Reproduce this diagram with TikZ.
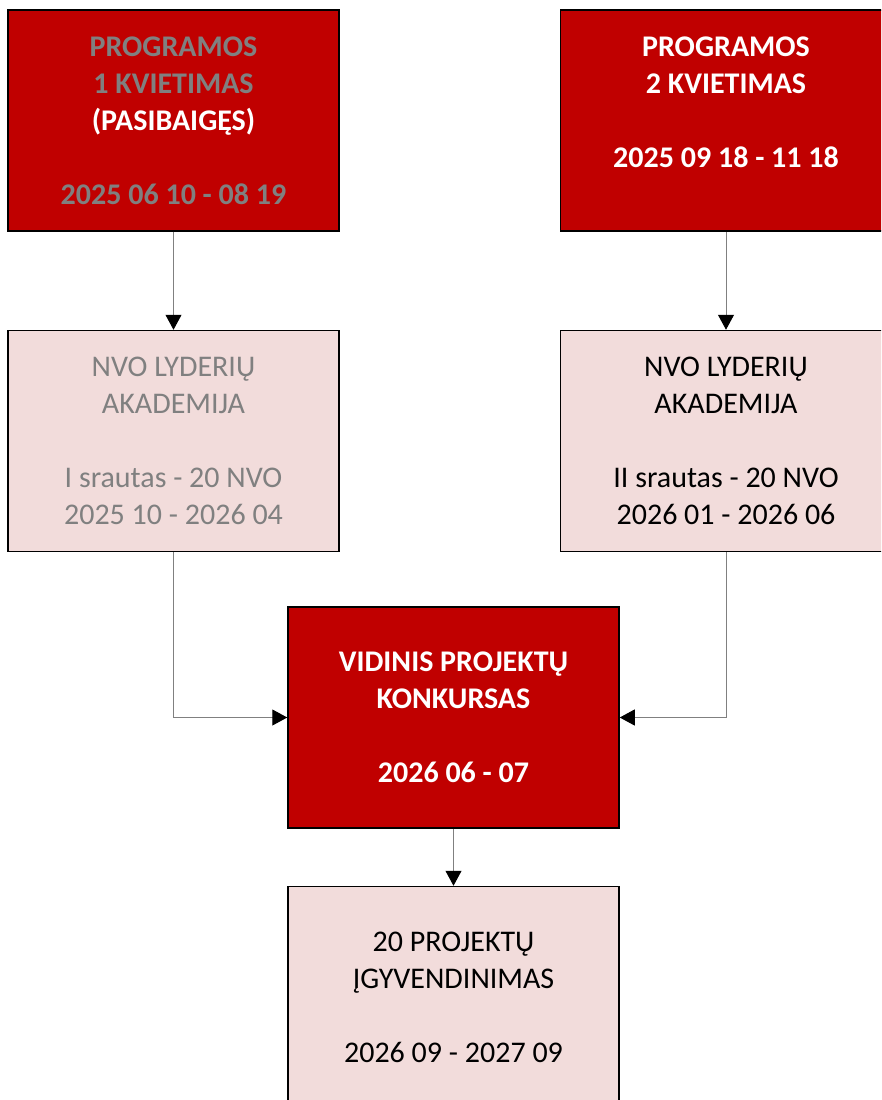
\documentclass[tikz,border=0pt]{standalone}
\usepackage{fontspec}
\setmainfont{Carlito}
\usepackage{xcolor}
\definecolor{redDark}{HTML}{C00000}
\definecolor{pinkLight}{HTML}{F2DCDB}
\definecolor{greyText}{HTML}{808080}
\usetikzlibrary{positioning,arrows.meta}
\tikzset{
  redBox/.style={
    rectangle,
    draw=black,
    line width=1.5pt,
    fill=redDark,
    minimum width=331pt,
    minimum height=221pt,
    inner sep=0pt,
    align=center,
    font=\fontsize{30}{37}\selectfont\bfseries
 },
  pinkBox/.style={
    rectangle,
    draw=black,
    line width=1.5pt,
    fill=pinkLight,
    minimum width=331pt,
    minimum height=221pt,
    inner sep=0pt,
    align=center,
    font=\fontsize{30}{37}\selectfont
 },
  arrowLine/.style={
    -{Triangle[length=15pt,width=16pt,color=black]},
    line width=1pt,
    color=greyText
 }
}

\begin{document}
\begin{tikzpicture}[x=1pt,y=-1pt,node distance=98pt]
            \clip (0,0) rectangle (881,1100);
            \fill[white] (0,0) rectangle (881,1100);

            \node[redBox, text=greyText] (call1) at (173.5,120.5)
              {PROGRAMOS\\1 KVIETIMAS\\\textcolor{white}{(PASIBAIGĘS)}\\\strut\\2025 06 10 - 08 19};
            \node[redBox, text=white, right=220pt of call1] (call2)
              {PROGRAMOS\\2 KVIETIMAS\\\strut\\2025 09 18 - 11 18\\\rule{0pt}{0pt}};

            \node[pinkBox, text=greyText, below=of call1] (acad1)
              {NVO LYDERIŲ\\AKADEMIJA\\\strut\\I srautas - 20 NVO\\2025 10 - 2026 04};
            \node[pinkBox, text=black, below=of call2] (acad2)
              {NVO LYDERIŲ\\AKADEMIJA\\\strut\\II srautas - 20 NVO\\2026 01 - 2026 06};

            \draw[arrowLine] (call1) -- (acad1);
            \draw[arrowLine] (call2) -- (acad2);

            % internal contest in the middle
            \node[redBox, text=white] (contest) at (453.5,717.5)
              {VIDINIS PROJEKTŲ\\KONKURSAS\\\strut\\2026 06 - 07};
            \draw[arrowLine] (acad1.south) |- (contest.west);
            \draw[arrowLine] (acad2.south) |- (contest.east);

            \node[pinkBox, text=black, below=57pt of contest] (impl)
              {20 PROJEKTŲ\\ĮGYVENDINIMAS\\\strut\\2026 09 - 2027 09};
            \draw[arrowLine] (contest) -- (impl);

        \end{tikzpicture}
\end{document}
